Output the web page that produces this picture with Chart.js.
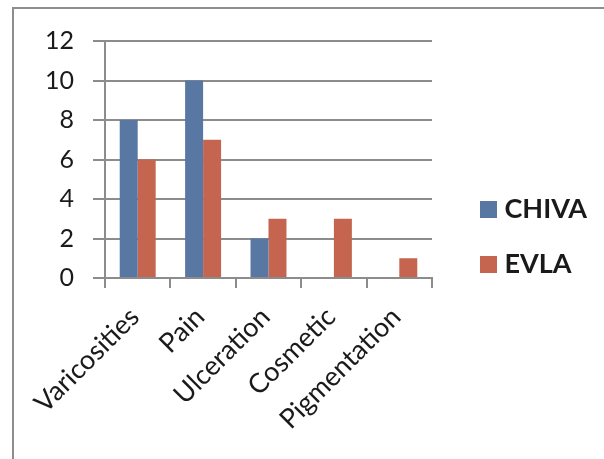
<!DOCTYPE html>
<html>
<head>
<meta charset="utf-8">
<script src="https://cdn.jsdelivr.net/npm/chart.js@4/dist/chart.umd.min.js"></script>
<style>
  html, body { margin: 0; padding: 0; background: #fff; }
  #wrap { position: relative; width: 604px; height: 459px; overflow: hidden; }
  #frame { position: absolute; left: 12px; top: 7px; width: 700px; height: 600px;
           border: 2px solid #8e8e8e; box-sizing: border-box; }
  canvas { position: absolute; left: 0; top: 0; }
</style>
</head>
<body>
<div id="wrap">
  <div id="frame"></div>
  <canvas id="c" width="604" height="459"></canvas>
</div>
<script>
const categories = ['Varicosities', 'Pain', 'Ulceration', 'Cosmetic', 'Pigmentation'];
const chivaValues = [8, 10, 2, 0, 0];
const evlaValues = [6, 7, 3, 3, 1];
const seriesNames = ['CHIVA', 'EVLA'];

const FONT = 'Lato, "Open Sans", sans-serif';
const GRID = '#8c8c8c';
const LEGEND_W = 172;

// Fix the legend column width and nudge it into place after layout.
const legendPlacement = {
  id: 'legendPlacement',
  beforeLayout(chart) {
    const lg = chart.legend;
    if (lg && !lg._fixedFit) {
      const fit = lg.fit;
      lg.fit = function () { fit.call(this); this.width = LEGEND_W; };
      lg._fixedFit = true;
    }
  },
  afterLayout(chart) {
    const lg = chart.legend;
    if (!lg) return;
    const dx = 26, dy = -13;
    lg.left += dx; lg.right += dx; lg.top += dy; lg.bottom += dy;
  }
};

new Chart(document.getElementById('c'), {
  type: 'bar',
  data: {
    labels: categories,
    datasets: [
      { label: seriesNames[0], data: chivaValues, backgroundColor: '#5877a3', borderWidth: 0 },
      { label: seriesNames[1], data: evlaValues, backgroundColor: '#c6654f', borderWidth: 0 }
    ]
  },
  options: {
    responsive: false,
    animation: false,
    devicePixelRatio: 1,
    layout: { padding: { top: 41, left: 0, right: 0, bottom: 0 } },
    datasets: { bar: { categoryPercentage: 0.55, barPercentage: 1 } },
    plugins: {
      tooltip: { enabled: false },
      legend: {
        position: 'right',
        labels: {
          usePointStyle: true,
          pointStyle: 'rect',
          boxWidth: 5,
          boxHeight: 17,
          padding: 28,
          color: '#1a1a1a',
          font: { family: FONT, size: 27, weight: 'bold' }
        }
      }
    },
    scales: {
      x: {
        offset: true,
        afterFit(scale) { scale.height = 181; },
        grid: { display: true, drawOnChartArea: false, offset: true, color: GRID, lineWidth: 2, tickLength: 10 },
        border: { display: true, color: GRID, width: 2 },
        ticks: {
          autoSkip: false, maxRotation: 45, minRotation: 45, padding: 13, labelOffset: -3,
          color: '#1a1a1a', font: { family: FONT, size: 27 }
        }
      },
      y: {
        min: 0, max: 12,
        afterFit(scale) { scale.width = 105; },
        grid: { color: GRID, lineWidth: 2, tickLength: 12 },
        border: { display: true, color: GRID, width: 2 },
        ticks: { stepSize: 2, padding: 19, color: '#1a1a1a', font: { family: FONT, size: 25 } }
      }
    }
  },
  plugins: [legendPlacement]
});
</script>
</body>
</html>
